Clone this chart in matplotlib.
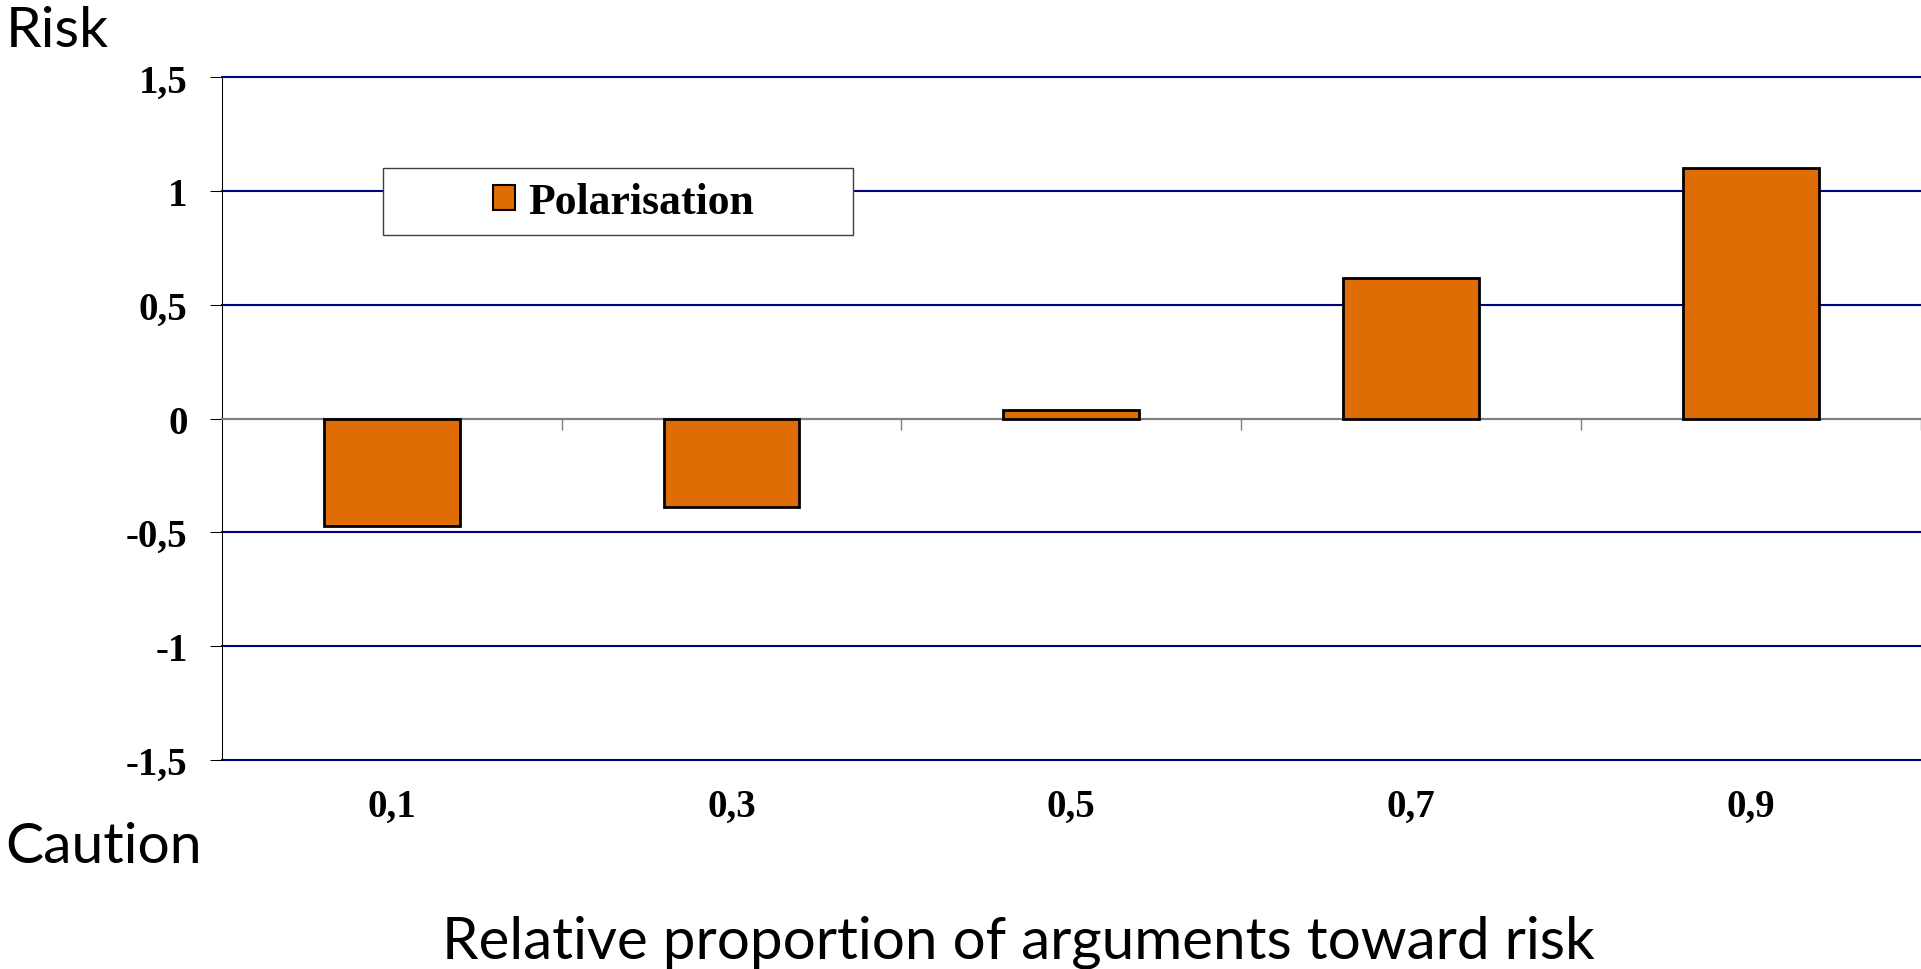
import matplotlib
matplotlib.use("Agg")
import matplotlib.pyplot as plt
from matplotlib.patches import Rectangle, Patch
import numpy as np

categories = ['0,1', '0,3', '0,5', '0,7', '0,9']
polarisation = [-0.47, -0.39, 0.04, 0.62, 1.1]
y_ticks = [-1.5, -1, -0.5, 0, 0.5, 1, 1.5]
y_tick_labels = ['-1,5', '-1', '-0,5', '0', '0,5', '1', '1,5']

serif = 'Liberation Serif'
sans = 'Lato'
bar_color = '#E06C06'
grid_color = '#000080'

fig = plt.figure(figsize=(19.21, 9.70), dpi=100)
ax = fig.add_axes([221.7 / 1921, 1 - 760.8 / 970, 1 - 221.7 / 1921, (760.8 - 78.4) / 970])

x = np.arange(len(categories))
ax.bar(x, polarisation, width=0.4, color=bar_color, edgecolor='black',
       linewidth=2, zorder=3, label='Polarisation')

ax.set_xlim(-0.5, len(categories) - 0.5)
ax.set_ylim(-1.5, 1.5)

# horizontal gridlines
ax.set_yticks(y_ticks)
ax.set_yticklabels(y_tick_labels, fontfamily=serif, fontweight='bold', fontsize=28)
ax.yaxis.grid(True, color=grid_color, linewidth=1.5)
for gl in ax.get_ygridlines():
    gl.set_clip_on(False)
ax.set_axisbelow(True)
ax.tick_params(axis='y', length=8.5, width=0.75, color='black', pad=16)

# category axis crosses at zero, labels sit at the bottom
for s in ['top', 'right']:
    ax.spines[s].set_visible(False)
ax.spines['left'].set_linewidth(0.75)
ax.spines['bottom'].set_position(('data', 0))
ax.spines['bottom'].set_color('#808080')
ax.spines['bottom'].set_linewidth(1.5)
ax.set_xticks(x)
ax.set_xticks(x + 0.5, minor=True)
ax.tick_params(axis='x', which='major', length=0, labelbottom=False)
ax.tick_params(axis='x', which='minor', length=8, width=1, color='#808080', direction='out')

sec = ax.secondary_xaxis('bottom')
sec.set_xticks(x)
sec.set_xticklabels(categories, fontfamily=serif, fontweight='bold', fontsize=28)
sec.tick_params(length=0, pad=20)
sec.spines['bottom'].set_visible(False)

# legend box
ax.add_patch(Rectangle((0.0952, 0.7685), 0.2761, 0.0987, transform=ax.transAxes,
                       facecolor='white', edgecolor='#404040', linewidth=1, zorder=4))
leg = ax.legend(handles=[Patch(facecolor=bar_color, edgecolor='black', linewidth=1.5,
                               label='Polarisation')],
                loc='center', bbox_to_anchor=(0.2365, 0.8178), frameon=False,
                prop={'family': serif, 'weight': 'bold', 'size': 31.5},
                handlelength=0.5, handleheight=0.5, handletextpad=0.3)
leg.set_zorder(5)

fig.text(6 / 1921, 1 - 46.7 / 970, 'Risk', fontfamily=sans, fontsize=41, va='baseline', ha='left')
fig.text(5 / 1921, 1 - 863 / 970, 'Caution', fontfamily=sans, fontsize=41, va='baseline', ha='left')
fig.text(1018.6 / 1921, 1 - 959 / 970, 'Relative proportion of arguments toward risk',
         fontfamily=sans, fontsize=42, va='baseline', ha='center')

fig.savefig('out.png', dpi=100)
